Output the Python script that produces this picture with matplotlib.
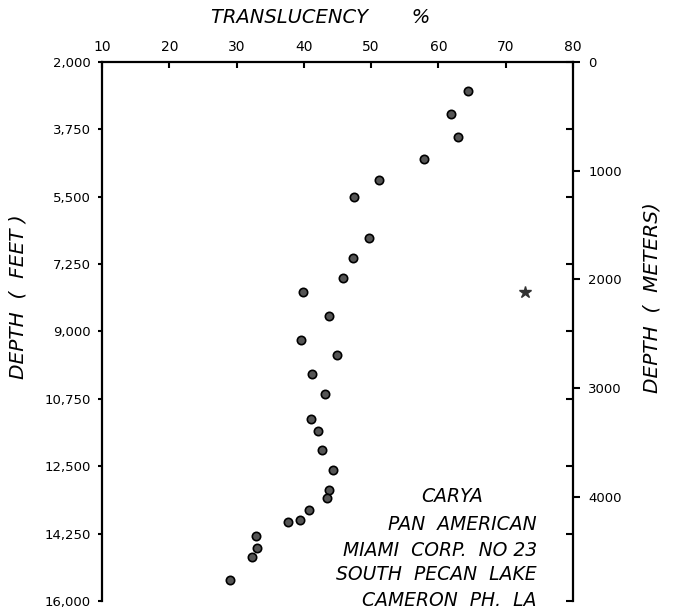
import matplotlib
matplotlib.use("Agg")
import matplotlib.pyplot as plt

# Data
translucency = [64.4, 61.8, 62.9, 57.8, 51.2, 47.4, 49.7, 47.3, 45.8, 39.9,
                43.7, 39.6, 44.9, 41.2, 43.2, 41.1, 42.1, 42.7, 44.4, 43.8,
                43.4, 40.8, 39.4, 37.7, 32.9, 33.0, 32.3, 29.1]
depth_ft = [2755, 3353, 3952, 4516, 5070, 5513, 6572, 7082, 7620, 7977,
            8609, 9215, 9606, 10100, 10620, 11263, 11583, 12088, 12590, 13111,
            13337, 13639, 13899, 13961, 14315, 14628, 14846, 15460]
odd_x = [72.8]
odd_ft = [7977]

x_ticks = [10, 20, 30, 40, 50, 60, 70, 80]
ft_ticks = [2000, 3750, 5500, 7250, 9000, 10750, 12500, 14250, 16000]
ft_labels = ["2,000", "3,750", "5,500", "7,250", "9,000", "10,750", "12,500", "14,250", "16,000"]
m_ticks = [0, 1000, 2000, 3000, 4000]
m_labels = ["0", "1000", "2000", "3000", "4000"]
note_lines = ["CARYA", "PAN  AMERICAN", "MIAMI  CORP.  NO 23", "SOUTH  PECAN  LAKE", "CAMERON  PH.  LA"]

fig = plt.figure(figsize=(6.74, 6.12), dpi=100)
ax = fig.add_axes([0.1513, 0.018, 0.6988, 0.8807])
ax.set_xlim(10, 80)
ax.set_ylim(16000, 2000)

ax.plot(translucency, depth_ft, 'o', ms=6, mfc='#555555', mec='black', mew=1.2, ls='none')
ax.plot(odd_x, odd_ft, '*', ms=9, color='#333333', ls='none')

# meters axis (outward ticks on the right)
ax2 = ax.twinx()
ax2.set_ylim(4960, 0)
ax2.set_yticks(m_ticks)
ax2.set_yticklabels(m_labels, fontsize=9.5)
ax2.tick_params(axis='y', direction='out', length=5, width=1.5, pad=6)
for s in ['left', 'bottom', 'top', 'right']:
    ax2.spines[s].set_visible(False)

# feet ticks mirrored inward on the right spine
ax3 = ax.twinx()
ax3.set_ylim(16000, 2000)
ax3.set_yticks(ft_ticks)
ax3.tick_params(axis='y', direction='in', length=5, width=1.5, labelright=False)
for s in ['left', 'bottom', 'top', 'right']:
    ax3.spines[s].set_visible(False)

# spines
for s in ['left', 'right', 'top']:
    ax.spines[s].set_linewidth(1.6)
ax.spines['bottom'].set_visible(False)

ax.xaxis.set_ticks_position('top')
ax.set_xticks(x_ticks)
ax.set_xticklabels([str(v) for v in x_ticks], fontsize=10)
ax.tick_params(axis='x', direction='in', length=4, width=1.5, pad=6)

ax.set_yticks(ft_ticks)
ax.set_yticklabels(ft_labels, fontsize=9.5)
ax.tick_params(axis='y', left=True, right=False, labelleft=True, labelright=False,
               direction='out', length=3, width=1.5, pad=5)

fig.text(0.475, 0.972, "TRANSLUCENCY       %", ha='center', va='center', fontsize=14, style='italic')
fig.text(0.027, 0.515, "DEPTH  (  FEET )", ha='center', va='center', rotation=90, fontsize=14.5, style='italic')
fig.text(0.968, 0.513, "DEPTH  (  METERS)", ha='center', va='center', rotation=90, fontsize=14.5, style='italic')

ys = [497, 524, 550, 575, 600]
for i, (line, yp) in enumerate(zip(note_lines, ys)):
    if i == 0:
        fig.text(452 / 674, 1 - yp / 612, line, ha='center', va='center', fontsize=13.5, style='italic')
    else:
        fig.text(537 / 674, 1 - yp / 612, line, ha='right', va='center', fontsize=13.5, style='italic')

fig.savefig("out.png", dpi=100)
